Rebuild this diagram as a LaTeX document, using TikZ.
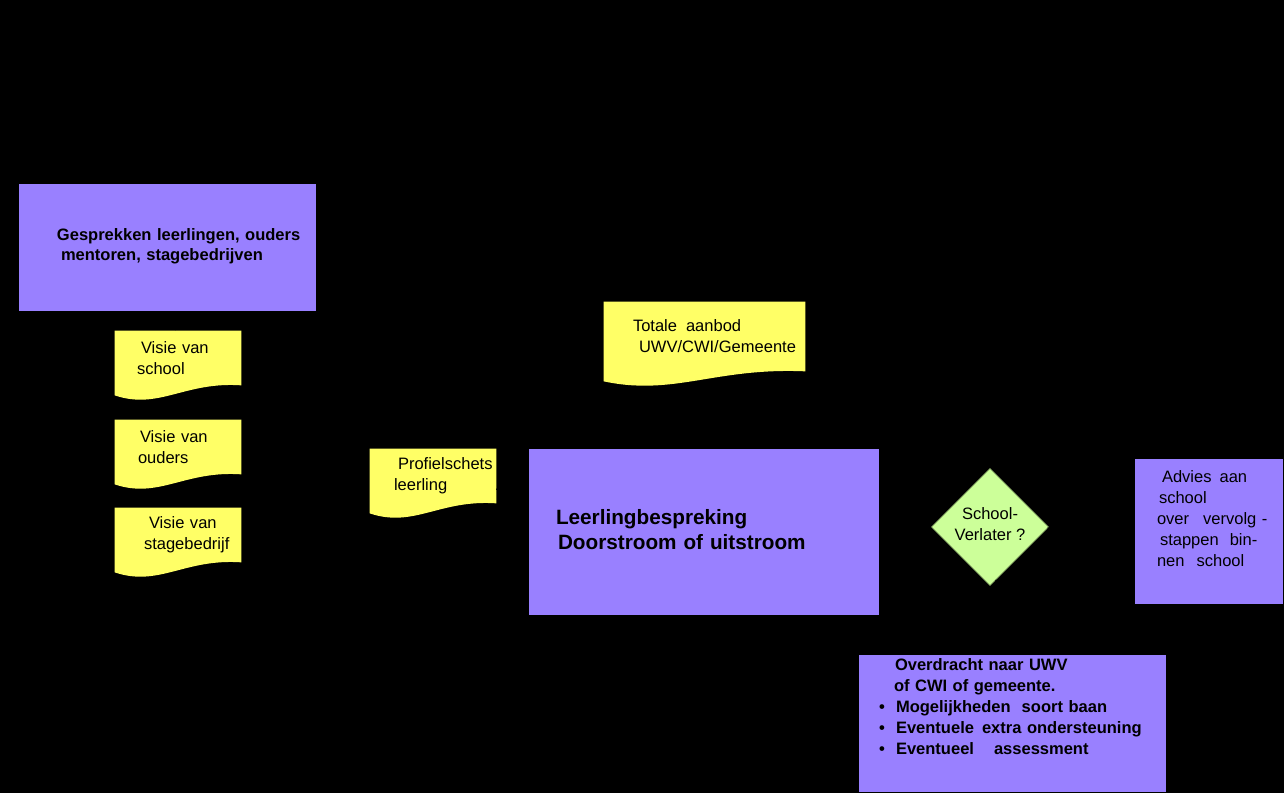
\documentclass[tikz,border=0pt]{standalone}
\usepackage{fontspec}
\setmainfont{Liberation Sans}
\usetikzlibrary{shapes.geometric,calc,arrows}
\pgfdeclarelayer{paper}
\pgfdeclarelayer{back}
\pgfsetlayers{paper,back,main}

\definecolor{boxpurple}{RGB}{153,128,255}
\definecolor{docyellow}{RGB}{255,255,102}
\definecolor{askgreen}{RGB}{204,255,153}
\def\txt{\fontsize{9.4}{11.9}\selectfont}
\tikzset{
  block/.style={rectangle, fill=boxpurple, inner sep=0pt, align=left, font=\txt},
  doc/.style={rectangle, inner sep=0pt, text width=2.52cm, minimum height=1.08cm, align=left, font=\txt},
  decision/.style={diamond, aspect=1, fill=askgreen, draw=askgreen!70!black, line width=0.4pt,
    minimum size=2.34cm, inner sep=0pt, align=center, font=\txt}
  }
\tikzstyle{flow}=[draw=black, thick, -latex]
% wavy bottom of a document box
\def\wave#1{\fill[docyellow] (#1.north west) -- (#1.north east) -- (#1.south east)
    .. controls ($(#1.south east)!0.45!(#1.south west)+(0,0.08)$) and ($(#1.south east)!0.65!(#1.south west)+(0,-0.5)$)
    .. ($(#1.south west)+(0,-0.2)$) -- cycle;}

\begin{document}
\begin{tikzpicture}
  \begin{pgfonlayer}{paper}
    \fill[black] (0,0) rectangle (25.68,-15.86);
  \end{pgfonlayer}
  \useasboundingbox (0,0) rectangle (25.68,-15.86);

  \node[block, font=\txt\bfseries, text width=5.94cm, minimum height=2.54cm] (gesprek) at (3.35,-4.95)
    {\hspace*{0.76cm}Gesprekken leerlingen, ouders\\\hspace*{0.84cm}mentoren, stagebedrijven\\[-0.3cm]\mbox{}};

  \node[doc] (visie1) at (3.56,-7.16) {\hspace*{0.52cm}Visie van\\\hspace*{0.44cm}school};
  \node[doc] (visie2) at (3.56,-8.94) {\hspace*{0.50cm}Visie van\\\hspace*{0.46cm}ouders};
  \node[doc] (visie3) at (3.56,-10.70) {\hspace*{0.68cm}Visie van\\\hspace*{0.58cm}stagebedrijf};
  \node[doc] (profiel) at (8.66,-9.52) {\hspace*{0.56cm}Profielschets\\\hspace*{0.48cm}leerling};
  \node[doc, text width=4.02cm, minimum height=1.38cm] (totale) at (14.09,-6.73)
    {\hspace*{0.58cm}Totale\hspace{0.18cm}aanbod\\\hspace*{0.70cm}UWV/CWI/Gemeente};
  \coordinate (totale foot) at ($(totale.south)+(0,-0.4)$);

  \begin{pgfonlayer}{back}
    \wave{visie1}
    \wave{visie2}
    \wave{visie3}
    \wave{profiel}
    \wave{totale}
  \end{pgfonlayer}

  \node[block, font=\fontsize{11.8}{14.2}\selectfont\bfseries, text width=7cm, minimum height=3.32cm] (leerling) at (14.08,-10.64)
    {\hspace*{0.54cm}Leerlingbespreking\\\hspace*{0.58cm}Doorstroom of uitstroom\\[-0.38cm]\mbox{}};

  \node[decision] (verlater) at (19.80,-10.54) {School-\\Verlater ?\\[-0.3cm]\mbox{}};

  \node[block, text width=2.96cm, minimum height=2.9cm] (advies) at (24.18,-10.63)
    {\hspace*{0.54cm}Advies\hspace{0.16cm}aan\\\hspace*{0.48cm}school\\\hspace*{0.44cm}over\hspace{0.28cm}vervolg -\\
     \hspace*{0.50cm}stappen\hspace{0.22cm}bin-\\\hspace*{0.44cm}nen\hspace{0.24cm}school\\[0.1cm]\mbox{}};

  \node[block, font=\txt\bfseries, text width=6.14cm, minimum height=2.74cm] (overdracht) at (20.25,-14.47)
    {\hspace*{0.72cm}Overdracht naar UWV\\\hspace*{0.70cm}of CWI of gemeente.\\
     \hspace*{0.40cm}\makebox[0.34cm][l]{\textbullet}Mogelijkheden\hspace{0.22cm}soort baan\\
     \hspace*{0.40cm}\makebox[0.34cm][l]{\textbullet}Eventuele\hspace{0.16cm}extra ondersteuning\\
     \hspace*{0.40cm}\makebox[0.34cm][l]{\textbullet}Eventueel\hspace{0.4cm}assessment\\[0.25cm]\mbox{}};

  % connectors are black on the black page
  \path[flow] (gesprek) -- (visie1);
  \path[flow] (profiel) -- (leerling);
  \path[flow] (totale foot) -- (leerling);
  \path[flow] (leerling) -- (verlater);
  \path[flow] (verlater) -- (advies);
  \path[flow] (verlater) -- (overdracht);
\end{tikzpicture}
\end{document}
